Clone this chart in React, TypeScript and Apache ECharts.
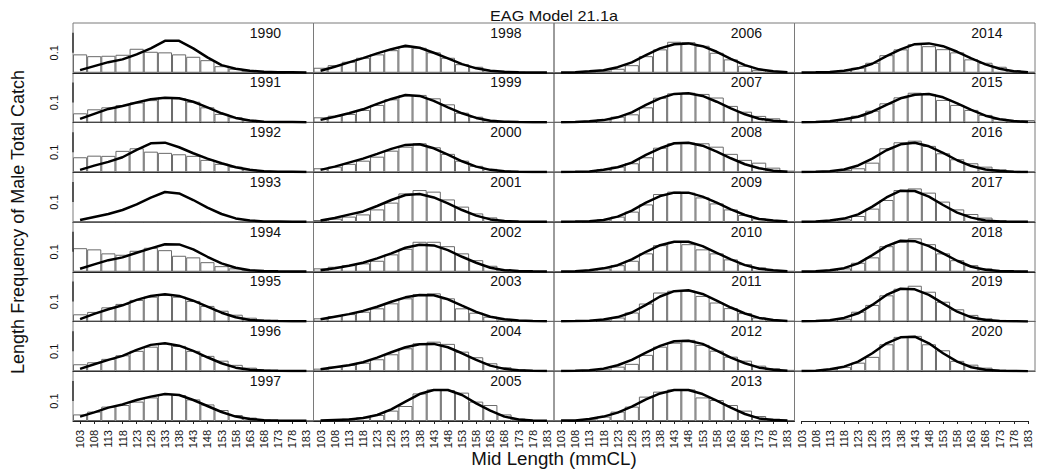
import { useEffect, useRef } from "react";
import * as echarts from "echarts";

const lengthBins = ["103", "108", "113", "118", "123", "128", "133", "138", "143", "148", "153", "158", "163", "168", "173", "178", "183"];
const years = [1990, 1991, 1992, 1993, 1994, 1995, 1996, 1997, 1998, 1999, 2000, 2001, 2002, 2003, 2004, 2005, 2006, 2007, 2008, 2009, 2010, 2011, 2012, 2013, 2014, 2015, 2016, 2017, 2018, 2019, 2020];

const obs1990 = [0.092, 0.083, 0.085, 0.09, 0.12, 0.105, 0.102, 0.092, 0.08, 0.063, 0.033, 0.02, 0.01, 0.005, 0.002, 0.001, 0];
const pred1990 = [0.013, 0.033, 0.053, 0.067, 0.092, 0.122, 0.16, 0.16, 0.122, 0.077, 0.038, 0.02, 0.01, 0.005, 0.003, 0.002, 0.001];
const obs1991 = [0.046, 0.066, 0.076, 0.087, 0.1, 0.112, 0.126, 0.121, 0.104, 0.076, 0.043, 0.026, 0.013, 0.007, 0.004, 0.002, 0.001];
const pred1991 = [0.018, 0.043, 0.068, 0.083, 0.1, 0.116, 0.124, 0.121, 0.104, 0.076, 0.046, 0.023, 0.01, 0.004, 0.003, 0.002, 0.001];
const obs1992 = [0.075, 0.083, 0.082, 0.107, 0.12, 0.103, 0.097, 0.09, 0.082, 0.062, 0.042, 0.028, 0.015, 0.008, 0.004, 0.002, 0.001];
const pred1992 = [0.012, 0.033, 0.052, 0.075, 0.112, 0.145, 0.148, 0.125, 0.095, 0.068, 0.045, 0.025, 0.012, 0.005, 0.003, 0.002, 0.001];
const obs1993 = [0, 0, 0, 0, 0, 0, 0, 0, 0, 0, 0, 0, 0, 0, 0, 0, 0];
const pred1993 = [0.01, 0.025, 0.04, 0.06, 0.088, 0.122, 0.15, 0.143, 0.11, 0.072, 0.04, 0.018, 0.008, 0.003, 0.002, 0.001, 0.001];
const obs1994 = [0.118, 0.112, 0.092, 0.085, 0.105, 0.12, 0.108, 0.08, 0.072, 0.048, 0.028, 0.017, 0.008, 0.004, 0.002, 0.001, 0];
const pred1994 = [0.015, 0.037, 0.058, 0.072, 0.095, 0.117, 0.138, 0.137, 0.112, 0.075, 0.042, 0.02, 0.008, 0.004, 0.002, 0.001, 0.001];
const obs1995 = [0.036, 0.048, 0.071, 0.088, 0.108, 0.124, 0.133, 0.124, 0.103, 0.078, 0.054, 0.034, 0.019, 0.009, 0.005, 0.002, 0.001];
const pred1995 = [0.012, 0.038, 0.061, 0.081, 0.108, 0.128, 0.136, 0.128, 0.104, 0.074, 0.044, 0.021, 0.008, 0.004, 0.002, 0.001, 0.001];
const obs1996 = [0.035, 0.045, 0.062, 0.08, 0.102, 0.123, 0.14, 0.127, 0.102, 0.077, 0.053, 0.032, 0.018, 0.008, 0.004, 0.002, 0.001];
const pred1996 = [0.012, 0.035, 0.057, 0.077, 0.107, 0.132, 0.14, 0.128, 0.102, 0.07, 0.04, 0.018, 0.008, 0.004, 0.002, 0.001, 0.001];
const obs1997 = [0.033, 0.047, 0.072, 0.08, 0.097, 0.118, 0.135, 0.13, 0.108, 0.083, 0.055, 0.03, 0.017, 0.008, 0.004, 0.002, 0.001];
const pred1997 = [0.022, 0.043, 0.067, 0.083, 0.105, 0.122, 0.135, 0.13, 0.105, 0.075, 0.045, 0.022, 0.01, 0.004, 0.002, 0.001, 0.001];
const obs1998 = [0.025, 0.038, 0.055, 0.075, 0.092, 0.113, 0.13, 0.125, 0.102, 0.075, 0.043, 0.03, 0.013, 0.007, 0.004, 0.002, 0.001];
const pred1998 = [0.01, 0.03, 0.052, 0.073, 0.097, 0.118, 0.135, 0.125, 0.1, 0.072, 0.043, 0.022, 0.01, 0.005, 0.002, 0.001, 0.001];
const obs1999 = [0.026, 0.034, 0.043, 0.063, 0.088, 0.116, 0.136, 0.138, 0.121, 0.091, 0.049, 0.029, 0.013, 0.007, 0.003, 0.002, 0.001];
const pred1999 = [0.013, 0.029, 0.046, 0.066, 0.093, 0.118, 0.138, 0.133, 0.108, 0.076, 0.046, 0.023, 0.009, 0.004, 0.002, 0.001, 0.001];
const obs2000 = [0.02, 0.028, 0.042, 0.058, 0.078, 0.108, 0.128, 0.145, 0.125, 0.092, 0.058, 0.032, 0.017, 0.008, 0.004, 0.002, 0.001];
const pred2000 = [0.012, 0.028, 0.048, 0.068, 0.092, 0.117, 0.137, 0.14, 0.12, 0.088, 0.055, 0.028, 0.012, 0.005, 0.002, 0.001, 0.001];
const obs2001 = [0.01, 0.017, 0.027, 0.038, 0.063, 0.097, 0.143, 0.16, 0.152, 0.113, 0.077, 0.043, 0.023, 0.01, 0.004, 0.002, 0.001];
const pred2001 = [0.007, 0.02, 0.037, 0.053, 0.08, 0.11, 0.135, 0.14, 0.123, 0.093, 0.06, 0.032, 0.013, 0.005, 0.002, 0.001, 0.001];
const obs2002 = [0.017, 0.025, 0.033, 0.042, 0.055, 0.087, 0.115, 0.15, 0.15, 0.128, 0.092, 0.058, 0.03, 0.013, 0.006, 0.003, 0.001];
const pred2002 = [0.008, 0.018, 0.03, 0.045, 0.067, 0.092, 0.12, 0.135, 0.132, 0.108, 0.075, 0.045, 0.02, 0.008, 0.004, 0.002, 0.001];
const obs2003 = [0.016, 0.027, 0.037, 0.049, 0.066, 0.091, 0.116, 0.137, 0.141, 0.116, 0.066, 0.044, 0.024, 0.011, 0.005, 0.002, 0.001];
const pred2003 = [0.011, 0.024, 0.037, 0.053, 0.074, 0.099, 0.121, 0.133, 0.131, 0.111, 0.079, 0.048, 0.024, 0.011, 0.005, 0.002, 0.001];
const obs2004 = [0.013, 0.023, 0.032, 0.043, 0.06, 0.085, 0.115, 0.14, 0.148, 0.137, 0.098, 0.07, 0.04, 0.02, 0.01, 0.004, 0.002];
const pred2004 = [0.01, 0.02, 0.03, 0.045, 0.068, 0.095, 0.12, 0.135, 0.137, 0.12, 0.09, 0.057, 0.028, 0.012, 0.005, 0.002, 0.001];
const obs2005 = [0.005, 0.008, 0.012, 0.018, 0.03, 0.052, 0.075, 0.138, 0.158, 0.155, 0.142, 0.097, 0.08, 0.033, 0.012, 0.004, 0.002];
const pred2005 = [0.002, 0.005, 0.008, 0.015, 0.03, 0.058, 0.097, 0.135, 0.155, 0.155, 0.13, 0.088, 0.052, 0.022, 0.008, 0.003, 0.001];
const obs2006 = [0.001, 0.002, 0.004, 0.01, 0.02, 0.038, 0.083, 0.117, 0.155, 0.153, 0.135, 0.1, 0.067, 0.035, 0.015, 0.006, 0.003];
const pred2006 = [0.001, 0.003, 0.007, 0.013, 0.028, 0.052, 0.088, 0.122, 0.143, 0.147, 0.133, 0.105, 0.07, 0.038, 0.017, 0.007, 0.003];
const obs2007 = [0.002, 0.003, 0.007, 0.016, 0.029, 0.041, 0.076, 0.124, 0.146, 0.149, 0.143, 0.125, 0.083, 0.054, 0.033, 0.021, 0.007];
const pred2007 = [0.001, 0.003, 0.006, 0.012, 0.026, 0.051, 0.088, 0.121, 0.143, 0.146, 0.133, 0.104, 0.071, 0.041, 0.019, 0.009, 0.004];
const obs2008 = [0.001, 0.002, 0.005, 0.015, 0.028, 0.045, 0.075, 0.123, 0.145, 0.148, 0.145, 0.128, 0.092, 0.062, 0.048, 0.023, 0.008];
const pred2008 = [0.001, 0.002, 0.004, 0.012, 0.025, 0.048, 0.087, 0.12, 0.145, 0.148, 0.133, 0.103, 0.07, 0.04, 0.02, 0.008, 0.003];
const obs2009 = [0.001, 0.002, 0.004, 0.013, 0.027, 0.052, 0.088, 0.14, 0.152, 0.147, 0.123, 0.093, 0.063, 0.035, 0.018, 0.01, 0.004];
const pred2009 = [0.001, 0.002, 0.004, 0.01, 0.027, 0.057, 0.097, 0.13, 0.147, 0.147, 0.127, 0.097, 0.063, 0.035, 0.015, 0.007, 0.003];
const obs2010 = [0.001, 0.002, 0.004, 0.017, 0.033, 0.055, 0.092, 0.133, 0.15, 0.138, 0.112, 0.092, 0.062, 0.038, 0.022, 0.008, 0.004];
const pred2010 = [0.001, 0.002, 0.007, 0.017, 0.033, 0.062, 0.1, 0.133, 0.15, 0.15, 0.128, 0.095, 0.062, 0.033, 0.015, 0.007, 0.003];
const obs2011 = [0.001, 0.002, 0.004, 0.008, 0.02, 0.045, 0.09, 0.145, 0.154, 0.154, 0.128, 0.095, 0.067, 0.042, 0.02, 0.008, 0.003];
const pred2011 = [0.001, 0.002, 0.004, 0.01, 0.022, 0.045, 0.083, 0.125, 0.152, 0.156, 0.138, 0.105, 0.07, 0.04, 0.018, 0.007, 0.003];
const obs2012 = [0.001, 0.002, 0.005, 0.01, 0.023, 0.037, 0.082, 0.123, 0.143, 0.157, 0.132, 0.103, 0.073, 0.053, 0.028, 0.015, 0.007];
const pred2012 = [0.001, 0.002, 0.005, 0.013, 0.03, 0.057, 0.093, 0.127, 0.15, 0.153, 0.137, 0.103, 0.068, 0.04, 0.018, 0.008, 0.003];
const obs2013 = [0.002, 0.005, 0.008, 0.022, 0.047, 0.072, 0.122, 0.147, 0.158, 0.158, 0.118, 0.105, 0.08, 0.052, 0.025, 0.012, 0.005];
const pred2013 = [0.002, 0.003, 0.01, 0.022, 0.042, 0.072, 0.108, 0.138, 0.155, 0.155, 0.135, 0.102, 0.067, 0.035, 0.013, 0.005, 0.002];
const obs2014 = [0.001, 0.002, 0.005, 0.013, 0.025, 0.05, 0.088, 0.117, 0.143, 0.133, 0.118, 0.102, 0.067, 0.05, 0.03, 0.013, 0.005];
const pred2014 = [0.001, 0.002, 0.004, 0.01, 0.022, 0.045, 0.083, 0.117, 0.143, 0.147, 0.133, 0.105, 0.072, 0.042, 0.02, 0.008, 0.003];
const obs2015 = [0.001, 0.002, 0.006, 0.016, 0.034, 0.059, 0.096, 0.126, 0.149, 0.143, 0.113, 0.088, 0.063, 0.038, 0.019, 0.011, 0.012];
const pred2015 = [0.001, 0.002, 0.006, 0.016, 0.029, 0.054, 0.088, 0.121, 0.139, 0.143, 0.126, 0.096, 0.063, 0.034, 0.016, 0.007, 0.003];
const obs2016 = [0.001, 0.002, 0.004, 0.012, 0.02, 0.048, 0.12, 0.15, 0.158, 0.132, 0.095, 0.065, 0.045, 0.028, 0.015, 0.007, 0.003];
const pred2016 = [0.001, 0.002, 0.005, 0.014, 0.034, 0.068, 0.11, 0.14, 0.148, 0.13, 0.097, 0.06, 0.031, 0.014, 0.006, 0.002, 0.001];
const obs2017 = [0.001, 0.002, 0.004, 0.013, 0.03, 0.067, 0.11, 0.16, 0.168, 0.147, 0.102, 0.063, 0.04, 0.022, 0.01, 0.004, 0.002];
const pred2017 = [0.001, 0.002, 0.007, 0.017, 0.038, 0.077, 0.123, 0.157, 0.155, 0.127, 0.085, 0.047, 0.022, 0.008, 0.003, 0.001, 0.001];
const obs2018 = [0.001, 0.002, 0.007, 0.017, 0.045, 0.072, 0.128, 0.15, 0.167, 0.138, 0.092, 0.058, 0.033, 0.017, 0.008, 0.004, 0.002];
const pred2018 = [0.001, 0.002, 0.007, 0.018, 0.042, 0.083, 0.128, 0.155, 0.153, 0.128, 0.092, 0.055, 0.025, 0.01, 0.004, 0.002, 0.001];
const obs2019 = [0.001, 0.002, 0.004, 0.014, 0.049, 0.083, 0.131, 0.164, 0.179, 0.149, 0.099, 0.061, 0.033, 0.016, 0.008, 0.003, 0.001];
const pred2019 = [0.001, 0.002, 0.006, 0.018, 0.041, 0.083, 0.133, 0.164, 0.161, 0.133, 0.091, 0.049, 0.021, 0.008, 0.003, 0.001, 0];
const obs2020 = [0.001, 0.004, 0.012, 0.022, 0.043, 0.072, 0.135, 0.172, 0.177, 0.135, 0.105, 0.052, 0.033, 0.018, 0.008, 0.003, 0.001];
const pred2020 = [0.001, 0.003, 0.01, 0.023, 0.048, 0.09, 0.14, 0.17, 0.173, 0.14, 0.09, 0.048, 0.02, 0.007, 0.003, 0.001, 0];

const observed = [obs1990, obs1991, obs1992, obs1993, obs1994, obs1995, obs1996, obs1997, obs1998, obs1999, obs2000, obs2001, obs2002, obs2003, obs2004, obs2005, obs2006, obs2007, obs2008, obs2009, obs2010, obs2011, obs2012, obs2013, obs2014, obs2015, obs2016, obs2017, obs2018, obs2019, obs2020];
const predicted = [pred1990, pred1991, pred1992, pred1993, pred1994, pred1995, pred1996, pred1997, pred1998, pred1999, pred2000, pred2001, pred2002, pred2003, pred2004, pred2005, pred2006, pred2007, pred2008, pred2009, pred2010, pred2011, pred2012, pred2013, pred2014, pred2015, pred2016, pred2017, pred2018, pred2019, pred2020];

const chartTitle = "EAG Model 21.1a";
const yName = "Length Frequency of Male Total Catch";
const xName = "Mid Length (mmCL)";

const PL = 73;
const PT = 23;
const PW = 240.5;
const PH = 49.75;
const YMAX = 0.249;
const ROWS = 8;
const FONT = "'Liberation Sans', Arial, Helvetica, sans-serif";

export default function App() {
  const ref = useRef<HTMLDivElement>(null);
  useEffect(() => {
    const chart = echarts.init(ref.current!, null, { renderer: "svg" });
    const grid: any[] = [];
    const xAxis: any[] = [];
    const yAxis: any[] = [];
    const series: any[] = [];
    const graphic: any[] = [];
    const labelStyle = { fontSize: 11, color: "#111", fontFamily: FONT };

    for (let k = 0; k < 32; k++) {
      const col = Math.floor(k / ROWS);
      const row = k % ROWS;
      const left = PL + col * PW;
      const top = PT + row * PH;
      const isEmpty = k >= years.length;
      const isBottom = row === ROWS - 1;
      if (isEmpty) {
        const half = PW / lengthBins.length / 2;
        grid.push({ left: left + half, top, width: PW - 2 * half, height: PH, show: false, outerBoundsMode: "none" });
        xAxis.push({
          gridIndex: k, type: "category", data: lengthBins, boundaryGap: false,
          axisLine: { show: true, lineStyle: { color: "#222", width: 1 } },
          axisTick: { show: true, length: 3, lineStyle: { color: "#222" } },
          axisLabel: { show: true, rotate: 90, interval: 0, margin: 9, ...labelStyle },
          splitLine: { show: false },
        });
      } else {
        grid.push({ left, top, width: PW, height: PH, show: true, borderColor: "#7a7a7a", borderWidth: 1, backgroundColor: "transparent", outerBoundsMode: "none" });
        xAxis.push({
          gridIndex: k, type: "category", data: lengthBins, boundaryGap: true,
          axisLine: { show: true, lineStyle: { color: "#222", width: 1 } },
          axisTick: { show: isBottom, alignWithLabel: true, length: 3, lineStyle: { color: "#222" } },
          axisLabel: { show: isBottom, rotate: 90, interval: 0, margin: 9, ...labelStyle },
          splitLine: { show: false },
        });
      }
      yAxis.push({
        gridIndex: k, type: "value", min: 0, max: YMAX, interval: 0.1,
        show: col === 0 && !isEmpty,
        axisLine: { show: false }, axisTick: { show: false }, splitLine: { show: false },
        axisLabel: {
          show: col === 0, rotate: 90, margin: 14, ...labelStyle,
          formatter: (v: number) => (Math.abs(v - 0.1) < 1e-9 ? "0.1" : ""),
        },
      });
      if (isEmpty) continue;
      series.push({
        type: "bar", xAxisIndex: k, yAxisIndex: k, data: observed[k],
        barCategoryGap: "0%", barGap: "0%", z: 2,
        itemStyle: { color: "#fff", borderColor: "#6a6a6a", borderWidth: 1 },
        emphasis: { disabled: true },
      });
      series.push({
        type: "line", xAxisIndex: k, yAxisIndex: k, data: predicted[k],
        symbol: "none", z: 3, smooth: false,
        lineStyle: { color: "#000", width: 2.5 },
        emphasis: { disabled: true },
      });
      graphic.push({
        type: "text", x: left + PW * 0.8, y: top + 9.5, z: 10,
        style: { text: String(years[k]), font: `14px ${FONT}`, fill: "#111", align: "center", verticalAlign: "middle" },
      });
      if (col === 0) {
        const scale = PH / YMAX;
        graphic.push({
          type: "line", z: 10,
          shape: { x1: PL, y1: top + PH - 0.2 * scale, x2: PL, y2: top + PH - 0.1 * scale },
          style: { stroke: "#333", lineWidth: 1.5 },
        });
      }
    }

    graphic.push({
      type: "text", x: PL + 2 * PW, y: 16, z: 10, scaleX: 1.08,
      style: { text: chartTitle, font: `15px ${FONT}`, fill: "#111", align: "center", verticalAlign: "middle" },
    });
    graphic.push({
      type: "text", x: PL + 2 * PW, y: 459, z: 10, scaleX: 1.04,
      style: { text: xName, font: `18px ${FONT}`, fill: "#111", align: "center", verticalAlign: "middle" },
    });
    graphic.push({
      type: "text", x: 18, y: PT + (ROWS * PH) / 2, rotation: Math.PI / 2, z: 10,
      style: { text: yName, font: `18px ${FONT}`, fill: "#111", align: "center", verticalAlign: "middle" },
    });

    chart.setOption({ animation: false, grid, xAxis, yAxis, series, graphic });
    return () => chart.dispose();
  }, []);
  return <div ref={ref} style={{ position: "fixed", left: 0, top: 0, width: 1039, height: 472, background: "#fff" }} />;
}
